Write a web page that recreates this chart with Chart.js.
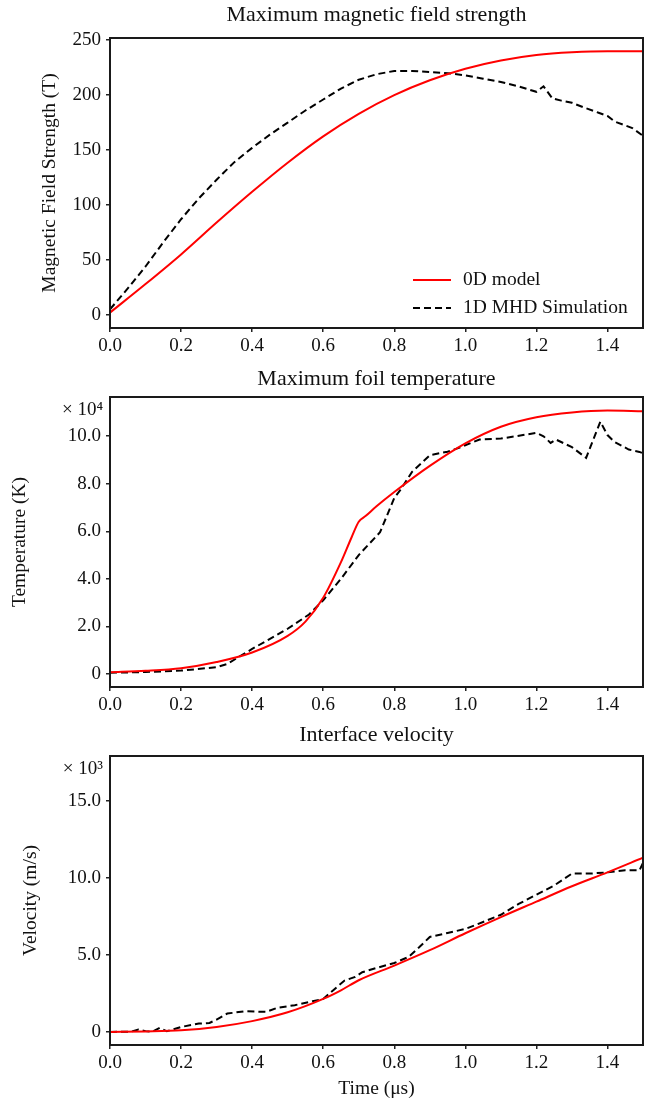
<!DOCTYPE html>
<html>
<head>
<meta charset="utf-8">
<script src="https://cdn.jsdelivr.net/npm/chart.js@4.4.1/dist/chart.umd.min.js"></script>
<style>
  body { margin: 0; background: #fff; }
  .panel { position: absolute; left: 0; width: 657px; }
</style>
</head>
<body>
<div class="panel" style="top:0;height:360px"><canvas id="field-chart"></canvas></div>
<div class="panel" style="top:360px;height:360px"><canvas id="temp-chart"></canvas></div>
<div class="panel" style="top:720px;height:384px"><canvas id="vel-chart"></canvas></div>
<script>
// --- data (time in microseconds) ---
const timeTicks = [0, 0.2, 0.4, 0.6, 0.8, 1.0, 1.2, 1.4];

// magnetic field strength (T)
const fieldTimeModel = [0, 0.1, 0.2, 0.3, 0.4, 0.5, 0.6, 0.7, 0.8, 0.9, 1.0, 1.1, 1.2, 1.3, 1.4, 1.5];
const fieldModel = [2, 28, 55, 84, 112, 138.5, 162.5, 183, 200, 213.5, 224, 231.5, 236.5, 239, 240, 240];
const fieldTimeSim = [0, 0.05, 0.1, 0.15, 0.2, 0.25, 0.3, 0.35, 0.4, 0.45, 0.5, 0.55, 0.6, 0.65, 0.7, 0.75, 0.8, 0.85, 0.9, 0.95, 1.0, 1.05, 1.1, 1.15, 1.2, 1.22, 1.245, 1.27, 1.3, 1.34, 1.375, 1.4, 1.42, 1.445, 1.47, 1.5];
const fieldSim = [5, 24, 44, 66, 87, 106, 123, 139, 152, 164, 175, 186, 196, 206, 214, 219, 222, 222, 221, 220, 218, 215, 212, 208, 203, 208, 197, 195, 193, 188, 184, 181, 176, 173, 170, 163];

// foil temperature (x 10^4 K)
const tempTimeModel = [0, 0.1, 0.2, 0.3, 0.4, 0.5, 0.55, 0.6, 0.65, 0.68, 0.7, 0.72, 0.75, 0.8, 0.9, 1.0, 1.1, 1.2, 1.3, 1.4, 1.5];
const tempModel = [0.07, 0.13, 0.24, 0.5, 0.9, 1.6, 2.2, 3.2, 4.7, 5.75, 6.4, 6.65, 7.05, 7.65, 8.75, 9.7, 10.4, 10.8, 11.0, 11.08, 11.05];
const tempTimeSim = [0, 0.1, 0.2, 0.3, 0.33, 0.4, 0.5, 0.56, 0.6, 0.65, 0.7, 0.76, 0.8, 0.82, 0.85, 0.9, 0.95, 0.98, 1.04, 1.1, 1.2, 1.22, 1.24, 1.255, 1.3, 1.34, 1.38, 1.4, 1.42, 1.46, 1.49, 1.5];
const tempSim = [0.05, 0.08, 0.14, 0.28, 0.42, 1.05, 1.9, 2.5, 3.1, 4.0, 5.0, 5.96, 7.4, 7.8, 8.5, 9.2, 9.35, 9.5, 9.86, 9.9, 10.14, 10.0, 9.72, 9.86, 9.54, 9.09, 10.61, 10.05, 9.76, 9.44, 9.34, 9.28];

// interface velocity (x 10^3 m/s)
const velTimeModel = [0, 0.1, 0.2, 0.3, 0.4, 0.5, 0.6, 0.65, 0.7, 0.8, 0.9, 1.0, 1.1, 1.2, 1.3, 1.4, 1.5];
const velModel = [0, 0.03, 0.1, 0.32, 0.7, 1.27, 2.14, 2.7, 3.35, 4.3, 5.3, 6.4, 7.45, 8.45, 9.45, 10.35, 11.3];
const velTimeSim = [0, 0.06, 0.08, 0.1, 0.12, 0.14, 0.16, 0.2, 0.25, 0.28, 0.3, 0.33, 0.38, 0.44, 0.47, 0.52, 0.57, 0.6, 0.63, 0.66, 0.69, 0.71, 0.75, 0.8, 0.84, 0.87, 0.9, 0.95, 1.0, 1.05, 1.1, 1.15, 1.2, 1.25, 1.3, 1.35, 1.4, 1.45, 1.49, 1.5];
const velSim = [0, 0.02, 0.15, 0.05, 0.02, 0.26, 0.04, 0.32, 0.54, 0.58, 0.8, 1.19, 1.34, 1.3, 1.56, 1.73, 1.99, 2.14, 2.74, 3.33, 3.57, 3.87, 4.15, 4.47, 4.86, 5.49, 6.16, 6.42, 6.68, 7.13, 7.6, 8.3, 8.9, 9.5, 10.27, 10.27, 10.35, 10.48, 10.48, 10.96];

const SERIF = "'Liberation Serif', 'Times New Roman', serif";
const INK = '#111';

function toPoints(xs, ys) {
  return xs.map((x, i) => ({ x: x, y: ys[i] }));
}

// box around the plot area, like matplotlib spines
const frame = {
  id: 'frame',
  afterDatasetsDraw(chart) {
    const { ctx, chartArea: a } = chart;
    ctx.save();
    ctx.strokeStyle = '#1a1a1a';
    ctx.lineWidth = 2;
    ctx.strokeRect(a.left, a.top, a.right - a.left, a.bottom - a.top);
    ctx.restore();
  }
};

// legend drawn inside the lower right of the plot area
const insideLegend = {
  id: 'insideLegend',
  afterDraw(chart) {
    const { ctx, chartArea: a } = chart;
    const x = a.right - 230;
    let y = a.bottom - 48;
    ctx.save();
    ctx.font = '19.5px ' + SERIF;
    ctx.textBaseline = 'middle';
    chart.data.datasets.forEach(ds => {
      ctx.strokeStyle = ds.borderColor;
      ctx.lineWidth = ds.borderWidth;
      ctx.setLineDash(ds.borderDash || []);
      ctx.beginPath();
      ctx.moveTo(x, y);
      ctx.lineTo(x + 38, y);
      ctx.stroke();
      ctx.setLineDash([]);
      ctx.fillStyle = INK;
      ctx.fillText(ds.label, x + 50, y);
      y += 28;
    });
    ctx.restore();
  }
};

// the "x 10^n" multiplier above the y ticks
function offsetText(text) {
  return {
    id: 'offsetText',
    afterDraw(chart) {
      const { ctx, chartArea: a } = chart;
      ctx.save();
      ctx.font = '19px ' + SERIF;
      ctx.fillStyle = INK;
      ctx.textAlign = 'right';
      ctx.textBaseline = 'middle';
      ctx.fillText(text, a.left - 7, a.top + 13);
      ctx.restore();
    }
  };
}

function makeChart(id, cfg) {
  const ctx = document.getElementById(id).getContext('2d');
  return new Chart(ctx, {
    type: 'line',
    data: {
      datasets: [{
        label: '0D model',
        data: toPoints(cfg.modelX, cfg.modelY),
        borderColor: '#ff0000',
        borderWidth: 2,
        pointRadius: 0,
        cubicInterpolationMode: 'monotone'
      }, {
        label: '1D MHD Simulation',
        data: toPoints(cfg.simX, cfg.simY),
        borderColor: '#000000',
        borderWidth: 2,
        borderDash: [7, 4],
        pointRadius: 0,
        tension: 0
      }]
    },
    options: {
      responsive: true,
      maintainAspectRatio: false,
      animation: false,
      layout: { padding: { left: 0, right: 14, top: 0, bottom: 0 } },
      plugins: {
        legend: { display: false },
        tooltip: { enabled: false },
        title: {
          display: true,
          text: cfg.title,
          fullSize: false,
          color: INK,
          font: { family: SERIF, size: 22, weight: 'normal' },
          padding: cfg.titlePad
        }
      },
      scales: {
        x: {
          type: 'linear',
          min: 0,
          max: 1.5,
          afterFit: s => { s.height = cfg.xHeight; },
          afterBuildTicks: s => { s.ticks = timeTicks.map(v => ({ value: v })); },
          grid: { drawOnChartArea: false, drawTicks: true, tickLength: 4, color: '#222', lineWidth: 1.5 },
          border: { display: false },
          ticks: {
            color: INK,
            padding: 3,
            maxRotation: 0,
            font: { family: SERIF, size: 19 },
            callback: v => v.toFixed(1)
          },
          title: {
            display: !!cfg.xTitle,
            text: cfg.xTitle || '',
            color: INK,
            font: { family: SERIF, size: 19.5 },
            padding: { top: 0, bottom: 3 }
          }
        },
        y: {
          min: cfg.yMin,
          max: cfg.yMax,
          afterFit: s => { s.width = 110; },
          grid: { drawOnChartArea: false, drawTicks: true, tickLength: 4, color: '#222', lineWidth: 1.5 },
          border: { display: false },
          ticks: {
            stepSize: cfg.yStep,
            includeBounds: false,
            color: INK,
            padding: 5,
            font: { family: SERIF, size: 19 },
            callback: cfg.yFormat
          },
          title: {
            display: true,
            text: cfg.yTitle,
            color: INK,
            font: { family: SERIF, size: 19.5 },
            padding: { top: cfg.yTitlePad, bottom: 0 }
          }
        }
      }
    },
    plugins: cfg.extra
  });
}

makeChart('field-chart', {
  title: 'Maximum magnetic field strength',
  titlePad: { top: 1.8, bottom: 9.8 },
  modelX: fieldTimeModel, modelY: fieldModel,
  simX: fieldTimeSim, simY: fieldSim,
  yMin: -12, yMax: 252, yStep: 50,
  yFormat: v => String(v),
  yTitle: 'Magnetic Field Strength (T)',
  yTitlePad: 38.3,
  xHeight: 32,
  extra: [frame, insideLegend]
});

makeChart('temp-chart', {
  title: 'Maximum foil temperature',
  titlePad: { top: 6.3, bottom: 4.3 },
  modelX: tempTimeModel, modelY: tempModel,
  simX: tempTimeSim, simY: tempSim,
  yMin: -0.55, yMax: 11.65, yStep: 2,
  yFormat: v => (v === 0 ? '0' : v.toFixed(1)),
  yTitle: 'Temperature (K)',
  yTitlePad: 8.3,
  xHeight: 33,
  extra: [frame, offsetText('× 10⁴')]
});

makeChart('vel-chart', {
  title: 'Interface velocity',
  titlePad: { top: 1.8, bottom: 7.8 },
  modelX: velTimeModel, modelY: velModel,
  simX: velTimeSim, simY: velSim,
  yMin: -0.85, yMax: 17.9, yStep: 5,
  yFormat: v => (v === 0 ? '0' : v.toFixed(1)),
  yTitle: 'Velocity (m/s)',
  yTitlePad: 19.3,
  xTitle: 'Time (μs)',
  xHeight: 59,
  extra: [frame, offsetText('× 10³')]
});
</script>
</body>
</html>
